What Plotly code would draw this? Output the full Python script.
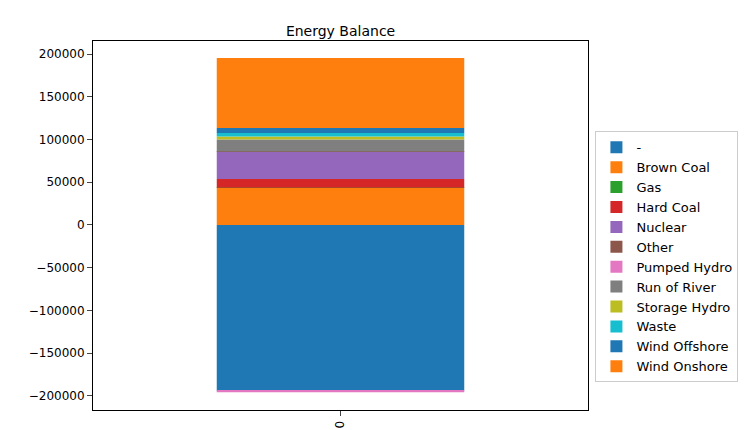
import plotly.graph_objects as go

categories = ["-", "Brown Coal", "Gas", "Hard Coal", "Nuclear", "Other", "Pumped Hydro",
              "Run of River", "Storage Hydro", "Waste", "Wind Offshore", "Wind Onshore"]
values = [-194000, 43300, 400, 10000, 32000, 300, -1500, 14000, 3400, 4300, 5700, 82000]
colors = ["#1f77b4", "#ff7f0e", "#2ca02c", "#d62728", "#9467bd", "#8c564b", "#e377c2",
          "#7f7f7f", "#bcbd22", "#17becf", "#1f77b4", "#ff7f0e"]
xcat = [0]

fig = go.Figure()
for c, v, col in zip(categories, values, colors):
    fig.add_trace(go.Bar(x=xcat, y=[v], name=c, marker=dict(color=col, line=dict(width=0)), width=0.5))

fig.update_layout(
    barmode="relative", width=749, height=430, plot_bgcolor="white", paper_bgcolor="white",
    font=dict(family="DejaVu Sans", size=12, color="black"),
    title=dict(text="Energy Balance", x=0.444, xanchor="center", y=0.958, font=dict(size=14)),
    margin=dict(l=85, r=169, t=33, b=28, autoexpand=False),
    legend=dict(x=1.015, y=0.075, xanchor="left", yanchor="bottom", bordercolor="#cccccc",
                borderwidth=1, font=dict(size=13), tracegroupgap=0, itemwidth=30),
    xaxis=dict(range=[-0.5, 0.5], tickvals=[0], ticktext=["0"], tickangle=-90, showline=True,
               linecolor="black", mirror=True, ticks="outside", showgrid=False, zeroline=False,
               automargin=False),
    yaxis=dict(range=[-216400, 215200], tickvals=list(range(-200000, 200001, 50000)),
               tickformat="d", showline=True, linecolor="black", mirror=True, ticks="outside",
               showgrid=False, zeroline=False, automargin=False),
)
fig.write_html("out.html")
